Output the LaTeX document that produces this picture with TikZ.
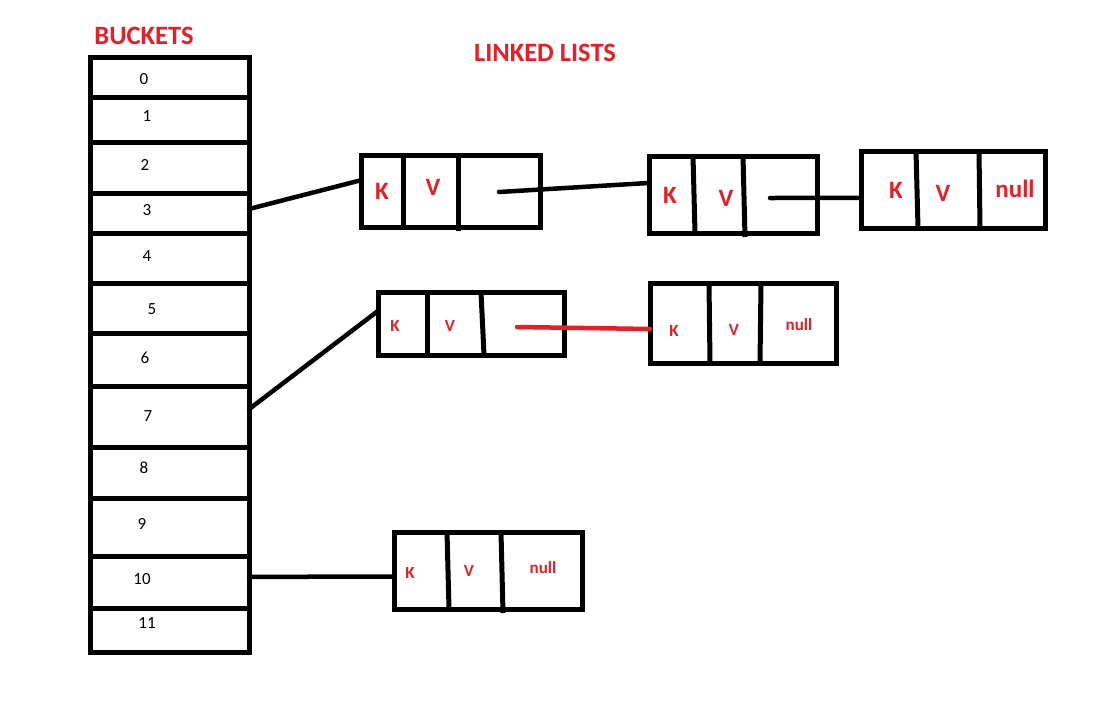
\documentclass[tikz,border=0pt]{standalone}
\usepackage{fontspec}
\setmainfont{Carlito}
\usetikzlibrary{calc}
\definecolor{pred}{RGB}{237,28,36}
\begin{document}
\begin{tikzpicture}[x=1pt,y=-1pt,
  bucket/.style={draw=black,line width=5pt,minimum width=159pt,inner sep=0pt,outer sep=0pt},
  digit/.style={font=\fontsize{17}{17}\selectfont,text=black,inner sep=0pt},
  title/.style={font=\bfseries\fontsize{26.5}{26.5}\selectfont,text=pred,inner sep=0pt},
  cell/.style={draw=black,line width=5pt,inner sep=0pt,outer sep=0pt},
  divider/.style={draw=black,line width=5pt},
  bigtxt/.style={font=\bfseries\fontsize{25}{25}\selectfont,text=pred,inner sep=0pt},
  smalltxt/.style={font=\bfseries\fontsize{17}{17}\selectfont,text=pred,inner sep=0pt},
  link/.style={draw=black,line width=4.5pt,line cap=round},
  redlink/.style={draw=pred,line width=4.5pt,line cap=round}]
\useasboundingbox (0,0) rectangle (1108,709);
\fill[white] (0,0) rectangle (1108,709);

% titles
\node[title] (tb) at (144,36) {BUCKETS};
\node[title] (tl) at (545,53) {LINKED LISTS};

% buckets
\foreach \i/\t/\b in {0/58/97,1/97/142,2/142/193,3/193/233,4/233/283,5/283/333,6/333/386,7/386/447,8/447/498,9/498/556,10/556/608,11/608/652}
  \node[bucket,minimum height={\b-\t}] (b\i) at (169.5,{(\t+\b)/2}) {};

\foreach \i/\x/\y in {0/144/79,1/147/116,2/145/165,3/147/210,4/147/256,5/152/309,6/145/358,7/148/416,8/144/468,9/142/524,10/142/579,11/147/623}
  \node[digit] (l\i) at (\x,\y) {\i};

% list row 1
\node[cell,minimum width=179pt,minimum height=72pt] (a1) at (450.5,191) {};
\draw[divider] (403,0 |- a1.north) -- (403,0 |- a1.south);
\draw[divider] (458,0 |- a1.north) -- (458,231);
\node[bigtxt] (a1k) at (382,191) {K};
\node[bigtxt] (a1v) at (433,187) {V};

\node[cell,minimum width=168pt,minimum height=77pt] (a2) at (733,194.5) {};
\draw[divider] (693,0 |- a2.north) -- (695,0 |- a2.south);
\draw[divider] (743,0 |- a2.north) -- (745,237);
\node[bigtxt] (a2k) at (670,195) {K};
\node[bigtxt] (a2v) at (726,198) {V};

\node[cell,minimum width=184pt,minimum height=77pt] (a3) at (953,189.5) {};
\draw[divider] (916,0 |- a3.north) -- (918,0 |- a3.south);
\draw[divider] (979,0 |- a3.north) -- (980,0 |- a3.south);
\node[bigtxt] (a3k) at (896,190) {K};
\node[bigtxt] (a3v) at (943,193) {V};
\node[bigtxt] (a3n) at (1015,189) {null};

% list row 2
\node[cell,minimum width=186pt,minimum height=63pt] (c1) at (471,323.5) {};
\draw[divider] (427,0 |- c1.north) -- (427,0 |- c1.south);
\draw[divider] (481,0 |- c1.north) -- (484,0 |- c1.south);
\node[smalltxt] (c1k) at (395,326) {K};
\node[smalltxt] (c1v) at (450,326) {V};

\node[cell,minimum width=186pt,minimum height=80pt] (c2) at (743,323) {};
\draw[divider] (709,0 |- c2.north) -- (710,0 |- c2.south);
\draw[divider] (761,0 |- c2.north) -- (760,0 |- c2.south);
\node[smalltxt] (c2k) at (674,331) {K};
\node[smalltxt] (c2v) at (734,330) {V};
\node[smalltxt] (c2n) at (799,325) {null};

% list row 3
\node[cell,minimum width=188pt,minimum height=77pt] (d1) at (488,570.5) {};
\draw[divider] (447,0 |- d1.north) -- (449,0 |- d1.south);
\draw[divider] (501,0 |- d1.north) -- (503,613);
\node[smalltxt] (d1k) at (410,573) {K};
\node[smalltxt] (d1v) at (469,571) {V};
\node[smalltxt] (d1n) at (543,568) {null};

% pointer starts
\coordinate (pa1) at (499,192);
\coordinate (pa2) at (770,198);
\coordinate (pc1) at (517,327);

% connectors
\draw[link] (b3.east) ++(0,-4) -- ($(a1.north west)!0.35!(a1.south west)$);
\draw[link] ($(b7.north east)!0.38!(b7.south east)$) -- ($(c1.north west)!0.3!(c1.south west)$);
\draw[link] ($(b10.north east)!0.4!(b10.south east)$) -- ($(d1.north west)!0.58!(d1.south west)$);
\draw[link] (pa1) -- ($(a2.north west)!0.35!(a2.south west)$);
\draw[link] (pa2) -- ($(a3.north west)!0.61!(a3.south west)$);
\draw[redlink] (pc1) -- ($(c2.north west)!0.575!(c2.south west)$);
\end{tikzpicture}
\end{document}
